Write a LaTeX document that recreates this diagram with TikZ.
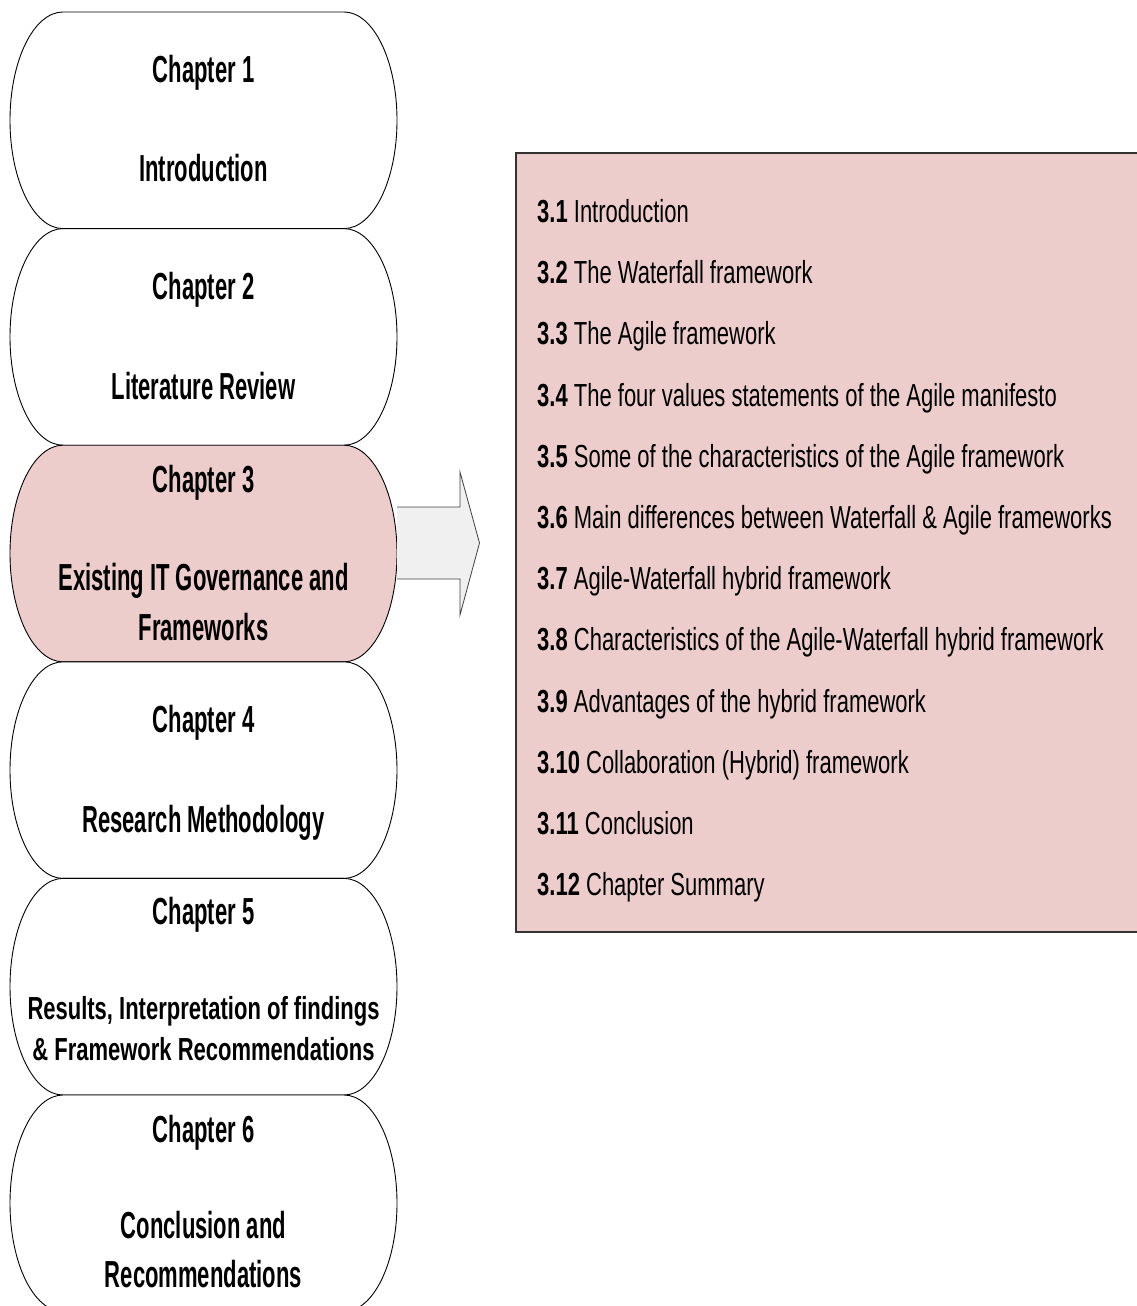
\documentclass[tikz,border=0pt]{standalone}
\usepackage{fontspec}
\setmainfont{Liberation Sans}
\newfontfamily\chapfont[FakeStretch=0.585]{Liberation Sans}
\newfontfamily\itemfont[FakeStretch=0.69]{Liberation Sans}
\definecolor{rosefill}{RGB}{236,205,204}
\definecolor{arrowfill}{RGB}{240,240,240}

% capsule outline: flat top and bottom, half-elliptic sides (#1 = top y)
\newcommand\capsule[2]{%
  \pgfmathsetmacro\cT{#1}\pgfmathsetmacro\cM{#1+108.3}\pgfmathsetmacro\cB{#1+216.6}%
  \pgfmathsetmacro\cU{\cM-59.8}\pgfmathsetmacro\cD{\cM+59.8}%
  \path[#2] (63,\cT) -- (344,\cT)
    .. controls (373.3,\cT) and (397,\cU) .. (397,\cM)
    .. controls (397,\cD) and (373.3,\cB) .. (344,\cB) -- (63,\cB)
    .. controls (33.7,\cB) and (10,\cD) .. (10,\cM)
    .. controls (10,\cU) and (33.7,\cT) .. (63,\cT) -- cycle;%
}

\begin{document}
\begin{tikzpicture}[x=1bp,y=-1bp,
  capline/.style={draw=black,line width=0.9bp},
  chap/.style={anchor=base,inner sep=0pt,
    font=\chapfont\bfseries\fontsize{37.8pt}{45pt}\selectfont},
  chapsmall/.style={anchor=base,inner sep=0pt,
    font=\chapfont\bfseries\fontsize{32pt}{40pt}\selectfont,
    /utils/exec=\relax},
  entry/.style={anchor=base west,inner sep=0pt,
    font=\itemfont\fontsize{32pt}{40pt}\selectfont}]
\useasboundingbox (0,0) rectangle (1136,1306);

% chapter capsules
\capsule{12}{capline,fill=white}
\capsule{228.6}{capline,fill=white}
\capsule{445.2}{capline,fill=rosefill}
\capsule{661.8}{capline,fill=white}
\capsule{878.4}{capline,fill=white}
\capsule{1095}{capline,fill=white}

% block arrow towards the section list
\draw[fill=arrowfill,draw=black!75,line width=0.8bp]
  (397,507) -- (460,507) -- (460,472) -- (479.5,543) -- (460,615) -- (460,579) -- (397,579);

% section list panel
\draw[fill=rosefill,draw=black!80,line width=1.5bp] (516,153) rectangle (1150,932);

% chapter titles
\node[chap] (c1a) at (203.5,83) {Chapter 1};
\node[chap] (c1b) at (203.5,182) {Introduction};
\node[chap] (c2a) at (203.5,300) {Chapter 2};
\node[chap] (c2b) at (203.5,399) {Literature Review};
\node[chap] (c3a) at (203.5,492) {Chapter 3};
\node[chap] (c3b) at (203.5,590) {Existing IT Governance and};
\node[chap] (c3c) at (203.5,640) {Frameworks};
\node[chap] (c4a) at (203.5,732) {Chapter 4};
\node[chap] (c4b) at (203.5,832) {Research Methodology};
\node[chap] (c5a) at (203.5,924) {Chapter 5};
\node[chap,font=\chapfont\bfseries\fontsize{32pt}{40pt}\selectfont\addfontfeature{FakeStretch=0.69}] (c5b) at (203.5,1019) {Results, Interpretation of findings};
\node[chap,font=\chapfont\bfseries\fontsize{32pt}{40pt}\selectfont\addfontfeature{FakeStretch=0.69}] (c5c) at (203.5,1060) {\& Framework Recommendations};
\node[chap] (c6a) at (203.5,1142) {Chapter 6};
\node[chap] (c6b) at (203.5,1238) {Conclusion and};
\node[chap] (c6c) at (203.5,1287) {Recommendations};

% section entries
\node[entry] (s1)  at (537,222.5) {\textbf{3.1} Introduction};
\node[entry] (s2)  at (537,283.7) {\textbf{3.2} The Waterfall framework};
\node[entry] (s3)  at (537,344.9) {\textbf{3.3} The Agile framework};
\node[entry] (s4)  at (537,406.1) {\textbf{3.4} The four values statements of the Agile manifesto};
\node[entry] (s5)  at (537,467.3) {\textbf{3.5} Some of the characteristics of the Agile framework};
\node[entry] (s6)  at (537,528.5) {\textbf{3.6} Main differences between Waterfall \& Agile frameworks};
\node[entry] (s7)  at (537,589.7) {\textbf{3.7} Agile-Waterfall hybrid framework};
\node[entry] (s8)  at (537,650.9) {\textbf{3.8} Characteristics of the Agile-Waterfall hybrid framework};
\node[entry] (s9)  at (537,712.1) {\textbf{3.9} Advantages of the hybrid framework};
\node[entry] (s10) at (537,773.3) {\textbf{3.10} Collaboration (Hybrid) framework};
\node[entry] (s11) at (537,834.5) {\textbf{3.11} Conclusion};
\node[entry] (s12) at (537,895.7) {\textbf{3.12} Chapter Summary};
\end{tikzpicture}
\end{document}
